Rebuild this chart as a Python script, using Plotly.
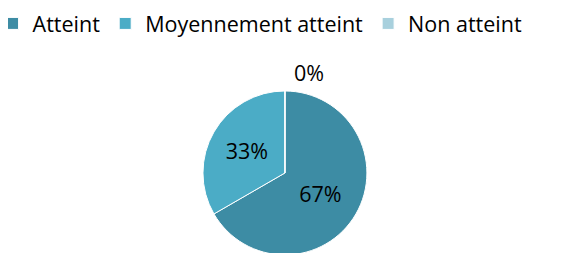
import plotly.graph_objects as go

labels = ["Atteint", "Moyennement atteint", "Non atteint"]
values = [2, 1, 0]
colors = ["#3D8CA4", "#4BACC6", "#A8D0DD"]
text_positions = ["inside", "inside", "none"]

FONT = "Open Sans"

total = sum(values)
zero_label = f"{round(100 * values[2] / total)}%"

fig = go.Figure(go.Pie(
    labels=labels,
    values=values,
    sort=False,
    direction="clockwise",
    rotation=0,
    marker=dict(colors=colors, line=dict(color="white", width=1)),
    textinfo="percent",
    texttemplate="%{percent:.0%}",
    textposition=text_positions,
    insidetextorientation="horizontal",
    textfont=dict(family=FONT, size=21.5, color="black"),
    domain=dict(x=[0, 0.97], y=[0.024, 0.672]),
    hoverinfo="skip",
    automargin=False,
))

# label of the empty "Non atteint" slice, placed above the pie
fig.add_annotation(
    text=zero_label, xref="paper", yref="paper", x=0.527, y=0.745,
    xanchor="center", yanchor="middle", showarrow=False,
    font=dict(family=FONT, size=21.5, color="black"),
)

fig.update_layout(
    width=571, height=253,
    margin=dict(l=0, r=0, t=0, b=0, autoexpand=False),
    paper_bgcolor="white",
    showlegend=True,
    legend=dict(
        orientation="h", x=-0.027, xanchor="left", y=1.02, yanchor="top",
        font=dict(family=FONT, size=21.5, color="black"),
        itemclick=False, itemdoubleclick=False,
    ),
)

fig.write_html("out.html")
